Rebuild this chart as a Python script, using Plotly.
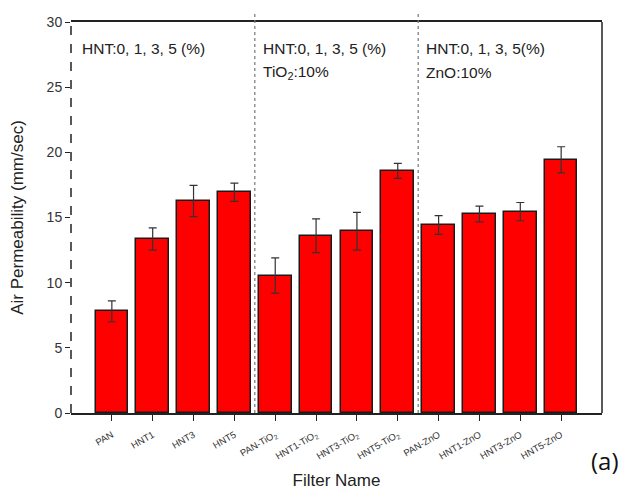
import plotly.graph_objects as go

categories = ["PAN", "HNT1", "HNT3", "HNT5",
              "PAN-TiO<sub>2</sub>", "HNT1-TiO<sub>2</sub>", "HNT3-TiO<sub>2</sub>", "HNT5-TiO<sub>2</sub>",
              "PAN-ZnO", "HNT1-ZnO", "HNT3-ZnO", "HNT5-ZnO"]
values = [7.8, 13.35, 16.27, 16.94, 10.55, 13.6, 13.95, 18.58, 14.43, 15.27, 15.45, 19.43]
errors = [0.8, 0.85, 1.2, 0.7, 1.35, 1.3, 1.45, 0.58, 0.72, 0.6, 0.7, 1.0]
yticks = [0, 5, 10, 15, 20, 25, 30]
xpos = list(range(len(categories)))

fig = go.Figure()
fig.add_trace(go.Bar(
    x=xpos, y=values, width=0.8,
    marker=dict(color="#FF0000", line=dict(color="#1a1a1a", width=1.5)),
    error_y=dict(type="data", array=errors, visible=True, color="#333333", thickness=1.2, width=4),
))

fig.update_layout(
    width=635, height=490,
    margin=dict(l=71, r=33, t=22, b=77),
    plot_bgcolor="white", paper_bgcolor="white",
    showlegend=False,
    font=dict(family="Liberation Sans, Arial, sans-serif", color="#222"),
    bargap=0,
)
fig.update_xaxes(
    range=[-1, 12], tickvals=xpos, ticktext=categories, tickangle=-30,
    tickfont=dict(size=9.5, color="#333"), ticklabelstandoff=5,
    showline=True, linecolor="#222", linewidth=1.5, mirror=True,
    ticks="outside", ticklen=6, tickwidth=1.2, tickcolor="#222",
    showgrid=False, zeroline=False, automargin=False,
    title=dict(text="Filter Name", font=dict(size=17, color="#222"), standoff=20),
)
fig.update_yaxes(
    range=[0, 30], tickvals=yticks, tickfont=dict(size=14, color="#333"),
    showline=False, ticks="outside", ticklen=5, tickwidth=1.2, tickcolor="#222",
    showgrid=False, zeroline=False, automargin=False,
    title=dict(text="Air Permeability (mm/sec)", font=dict(size=17, color="#222"), standoff=18),
)

# dashed left axis
fig.add_shape(type="line", xref="paper", yref="paper", x0=0, x1=0, y0=0, y1=1,
              line=dict(color="#222", width=1.5, dash="dash"))
# right axis
fig.add_shape(type="line", xref="paper", yref="paper", x0=1, x1=1, y0=0, y1=1,
              line=dict(color="#222", width=1.5))
# dotted group separators
for xs in [3.5, 7.5]:
    fig.add_shape(type="line", xref="x", yref="paper", x0=xs, x1=xs, y0=0, y1=1.025,
                  line=dict(color="#777", width=1.2, dash="dot"))

ann_font = dict(size=15.5, color="#222")
fig.add_annotation(x=-0.78, y=28.0, xref="x", yref="y", text="HNT:0, 1, 3, 5 (%)",
                   showarrow=False, xanchor="left", yanchor="middle", font=ann_font)
fig.add_annotation(x=3.65, y=28.0, xref="x", yref="y", text="HNT:0, 1, 3, 5 (%)",
                   showarrow=False, xanchor="left", yanchor="middle", font=ann_font)
fig.add_annotation(x=3.65, y=26.15, xref="x", yref="y", text="TiO<sub>2</sub>:10%",
                   showarrow=False, xanchor="left", yanchor="middle", font=ann_font)
fig.add_annotation(x=7.65, y=28.0, xref="x", yref="y", text="HNT:0, 1, 3, 5(%)",
                   showarrow=False, xanchor="left", yanchor="middle", font=ann_font)
fig.add_annotation(x=7.65, y=26.15, xref="x", yref="y", text="ZnO:10%",
                   showarrow=False, xanchor="left", yanchor="middle", font=ann_font)
fig.add_annotation(xref="paper", yref="paper",
                   x=(605 - 71) / (635 - 71 - 33), y=(490 - 77 - 460) / (490 - 22 - 77),
                   xanchor="center", yanchor="middle", text="(a)", showarrow=False,
                   font=dict(size=24, color="#111", family="Open Sans, sans-serif"))

fig.write_html("out.html")
